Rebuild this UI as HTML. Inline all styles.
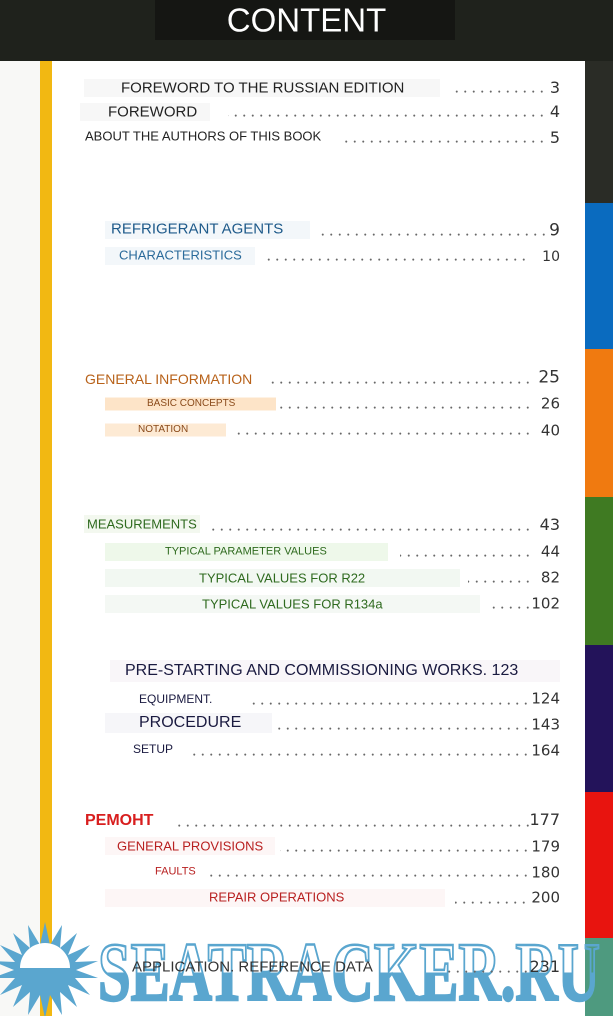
<!DOCTYPE html>
<html><head><meta charset="utf-8"><style>
body{margin:0;width:613px;height:1016px;position:relative;overflow:hidden;background:#fff;font-family:"Liberation Sans",sans-serif}
.a{position:absolute}
.t{position:absolute;white-space:nowrap;line-height:1;transform:translateY(-50%)}
.b{position:absolute;height:18px;transform:translateY(-50%)}
.d{position:absolute;height:4px;transform:translateY(-10%);background-image:radial-gradient(circle,#666 0.8px,transparent 1.2px);background-size:8.5px 4px;background-repeat:repeat-x;background-position:right 0 top 0}
.n{position:absolute;right:53px;white-space:nowrap;line-height:1;transform:translateY(-50%);font-family:"DejaVu Sans","Liberation Sans",sans-serif;font-size:15px;color:#333}
</style></head><body>
<div class="a" style="left:0;top:0;width:613px;height:61px;background:#1f221c"></div>
<div class="a" style="left:155px;top:0;width:300px;height:40px;background:#151613"></div>
<div class="t" style="left:0;width:613px;text-align:center;top:20px;font-size:33px;color:#fff">CONTENT</div>
<div class="a" style="left:585px;top:61px;width:28px;height:955px;background:#2a2c26"></div>
<div class="a" style="left:585px;top:203px;width:28px;height:146px;background:#0a6bbf"></div>
<div class="a" style="left:585px;top:349px;width:28px;height:148px;background:#f07a10"></div>
<div class="a" style="left:585px;top:497px;width:28px;height:148px;background:#3f7a22"></div>
<div class="a" style="left:585px;top:645px;width:28px;height:147px;background:#23135a"></div>
<div class="a" style="left:585px;top:792px;width:28px;height:146px;background:#e8140f"></div>
<div class="a" style="left:585px;top:938px;width:28px;height:78px;background:#4e9a7f"></div>
<div class="a" style="left:0;top:61px;width:40px;height:955px;background:#f8f8f6"></div>
<div class="a" style="left:40px;top:61px;width:12px;height:955px;background:#f2b812"></div>

<!-- boxes -->
<div class="b" style="left:84px;width:356px;top:88px;background:#f7f7f7"></div>
<div class="b" style="left:80px;width:130px;top:112px;background:#f7f7f7"></div>
<div class="b" style="left:105px;width:205px;top:230px;background:#f3f7fa"></div>
<div class="b" style="left:105px;width:150px;top:256px;background:#f3f7fa"></div>
<div class="b" style="left:105px;width:171px;top:404px;height:13px;background:#fde4c8"></div>
<div class="b" style="left:105px;width:121px;top:430px;height:13px;background:#fdead4"></div>
<div class="b" style="left:84px;width:116px;top:524px;background:#f3f8ef"></div>
<div class="b" style="left:105px;width:283px;top:552px;background:#eef8ea"></div>
<div class="b" style="left:105px;width:355px;top:578px;background:#f2f8f2"></div>
<div class="b" style="left:105px;width:375px;top:604px;background:#f4f8f4"></div>
<div class="b" style="left:110px;width:450px;top:671px;height:22px;background:#f9f6f9"></div>
<div class="b" style="left:105px;width:167px;top:723px;height:20px;background:#f6f6f9"></div>
<div class="b" style="left:105px;width:170px;top:846px;background:#fdf6f6"></div>
<div class="b" style="left:105px;width:340px;top:898px;background:#fdf6f6"></div>

<!-- labels -->
<div class="t" style="left:121px;top:88px;font-size:15px;color:#222">FOREWORD TO THE RUSSIAN EDITION</div>
<div class="t" style="left:108px;top:112px;font-size:15px;color:#222">FOREWORD</div>
<div class="t" style="left:85px;top:136px;font-size:13px;color:#222">ABOUT THE AUTHORS OF THIS BOOK</div>
<div class="t" style="left:111px;top:229px;font-size:15px;color:#1e5a8a">REFRIGERANT AGENTS</div>
<div class="t" style="left:119px;top:255px;font-size:13px;color:#2a6a9a">CHARACTERISTICS</div>
<div class="t" style="left:85px;top:379px;font-size:14px;color:#b8621a">GENERAL INFORMATION</div>
<div class="t" style="left:147px;top:404px;font-size:10px;color:#8a4a1a">BASIC CONCEPTS</div>
<div class="t" style="left:138px;top:430px;font-size:10px;color:#8a4a1a">NOTATION</div>
<div class="t" style="left:87px;top:524px;font-size:13px;color:#2e6a1e">MEASUREMENTS</div>
<div class="t" style="left:165px;top:552px;font-size:11px;color:#2e6a1e">TYPICAL PARAMETER VALUES</div>
<div class="t" style="left:199px;top:578px;font-size:13px;color:#2e6a1e">TYPICAL VALUES FOR R22</div>
<div class="t" style="left:202px;top:604px;font-size:13px;color:#2e6a1e">TYPICAL VALUES FOR R134a</div>
<div class="t" style="left:125px;top:671px;font-size:16px;color:#1a1a40">PRE-STARTING AND COMMISSIONING WORKS. 123</div>
<div class="t" style="left:139px;top:699px;font-size:12px;color:#1a1a40">EQUIPMENT.</div>
<div class="t" style="left:139px;top:723px;font-size:16px;color:#1a1a40">PROCEDURE</div>
<div class="t" style="left:133px;top:749px;font-size:12px;color:#1a1a40">SETUP</div>
<div class="t" style="left:85px;top:821px;font-size:16px;font-weight:bold;color:#d81e1e">РЕМОНТ</div>
<div class="t" style="left:117px;top:846px;font-size:13px;color:#b82020">GENERAL PROVISIONS</div>
<div class="t" style="left:155px;top:872px;font-size:11px;color:#b82020">FAULTS</div>
<div class="t" style="left:209px;top:897px;font-size:13px;color:#b82020">REPAIR OPERATIONS</div>

<!-- dots -->
<div class="d" style="left:452px;width:94px;top:90px"></div>
<div class="d" style="left:228px;width:318px;top:114px"></div>
<div class="d" style="left:342px;width:204px;top:140px"></div>
<div class="d" style="left:318px;width:230px;top:233px"></div>
<div class="d" style="left:262px;width:266px;top:258px"></div>
<div class="d" style="left:268px;width:264px;top:381px"></div>
<div class="d" style="left:280px;width:252px;top:406px"></div>
<div class="d" style="left:232px;width:300px;top:432px"></div>
<div class="d" style="left:212px;width:320px;top:528px"></div>
<div class="d" style="left:400px;width:132px;top:554px"></div>
<div class="d" style="left:468px;width:64px;top:580px"></div>
<div class="d" style="left:490px;width:42px;top:606px"></div>
<div class="d" style="left:250px;width:280px;top:702px"></div>
<div class="d" style="left:278px;width:252px;top:727px"></div>
<div class="d" style="left:188px;width:342px;top:753px"></div>
<div class="d" style="left:175px;width:357px;top:824px"></div>
<div class="d" style="left:280px;width:250px;top:849px"></div>
<div class="d" style="left:210px;width:320px;top:874px"></div>
<div class="d" style="left:455px;width:73px;top:901px"></div>

<!-- numbers -->
<div class="n" style="top:88px;font-size:16px">3</div>
<div class="n" style="top:112px;font-size:16px">4</div>
<div class="n" style="top:138px;font-size:16px">5</div>
<div class="n" style="top:231px;font-size:17px">9</div>
<div class="n" style="top:257px;font-size:14px">10</div>
<div class="n" style="top:378px;font-size:17px">25</div>
<div class="n" style="top:404px">26</div>
<div class="n" style="top:431px">40</div>
<div class="n" style="top:525px;font-size:16px">43</div>
<div class="n" style="top:552px">44</div>
<div class="n" style="top:578px">82</div>
<div class="n" style="top:604px">102</div>
<div class="n" style="top:699px">124</div>
<div class="n" style="top:725px">143</div>
<div class="n" style="top:751px">164</div>
<div class="n" style="top:820px;font-size:16px">177</div>
<div class="n" style="top:847px">179</div>
<div class="n" style="top:873px">180</div>
<div class="n" style="top:898px">200</div>

<!-- watermark -->
<svg class="a" style="left:0;top:920px" width="613" height="96" viewBox="0 0 613 96">
<defs><linearGradient id="g" x1="0" y1="0" x2="0" y2="1"><stop offset="0.5" stop-color="#fff" stop-opacity="0"/><stop offset="0.5" stop-color="#5aa6cf"/></linearGradient></defs>
<g fill="#5aa6cf">
<polygon points="45,2 50,25 62,5 60,28 77,13 68,35 90,25 75,42 98,41 76,50 98,58 75,58 90,75 68,65 77,87 60,72 62,95 50,75 45,98 40,75 28,95 30,72 13,87 22,65 0,75 15,58 -8,58 14,50 -8,41 15,42 0,25 22,35 13,13 30,28 28,5 40,25"/>
</g>
<path d="M20,48 A25,25 0 0 1 70,48 Z" fill="#fff"/>
<text x="98" y="80" font-family="Liberation Serif,serif" font-weight="bold" font-size="84" textLength="502" lengthAdjust="spacingAndGlyphs" fill="url(#g)" stroke="#5aa6cf" stroke-width="2.5">SEATRACKER.RU</text>
</svg>
<div class="t" style="left:132px;top:967px;font-size:15px;color:#333">APPLICATION. REFERENCE DATA</div>
<div class="d" style="left:445px;width:85px;top:970px"></div>
<div class="n" style="top:967px;font-size:16px">231</div>
</body></html>
